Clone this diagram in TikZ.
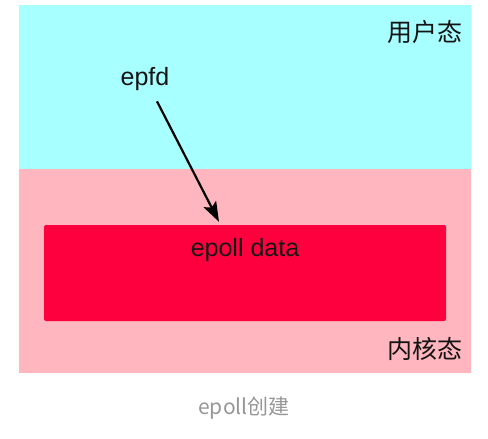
\documentclass[tikz,border=0pt]{standalone}
\usepackage{fontspec}
\setmainfont{Liberation Sans}
\newfontfamily\cjkfont{Noto Sans CJK SC}
\usepackage{xcolor}
\usepackage{tikz}
\usetikzlibrary{arrows.meta, positioning}
\definecolor{userspace}{RGB}{168,255,255}
\definecolor{kernelspace}{RGB}{255,182,190}
\definecolor{epollred}{RGB}{255,0,62}
\definecolor{inktext}{RGB}{20,20,20}
\definecolor{captiongray}{RGB}{150,150,150}
\tikzset{
  region/.style={rectangle, draw=none, inner sep=0pt},
  datablock/.style={rectangle, draw=none, fill=epollred, rounded corners=2pt, inner sep=0pt},
  txt/.style={inner sep=0pt, text=inktext, font=\fontsize{25}{30}\selectfont},
  zhtxt/.style={inner sep=0pt, text=inktext, font=\cjkfont\fontsize{25}{30}\selectfont},
  handle/.style={-{Stealth[length=20pt, width=14pt, inset=4pt]}, line width=2.2pt, black},
}

\begin{document}
\begin{tikzpicture}[x=1pt, y=1pt]
  \useasboundingbox (0,0) rectangle (488,-439);
  % user space and kernel space
  \node[region, fill=userspace, minimum width=452pt, minimum height=164pt] (user) at (245,-87) {};
  \node[region, fill=kernelspace, minimum width=452pt, minimum height=204pt] (kernel) at (245,-271) {};
  \node[zhtxt] (userlabel) at (425,-32.5) {用户态};
  \node[zhtxt] (kernellabel) at (425,-349) {内核态};

  % the epoll instance
  \node[datablock, minimum width=402pt, minimum height=96pt] (data) at (245,-273) {};
  \node[txt, below=13pt of data.north] (datalabel) {epoll data};

  \node[txt] (epfd) at (145,-79.5) {epfd};
  \draw[handle] ([xshift=12pt, yshift=-10pt]epfd.south) -- ([xshift=-26pt, yshift=3pt]data.north);

  \node[inner sep=0pt, text=captiongray, font=\cjkfont\fontsize{21}{25}\selectfont] (caption) at (244,-408) {epoll创建};
\end{tikzpicture}
\end{document}
